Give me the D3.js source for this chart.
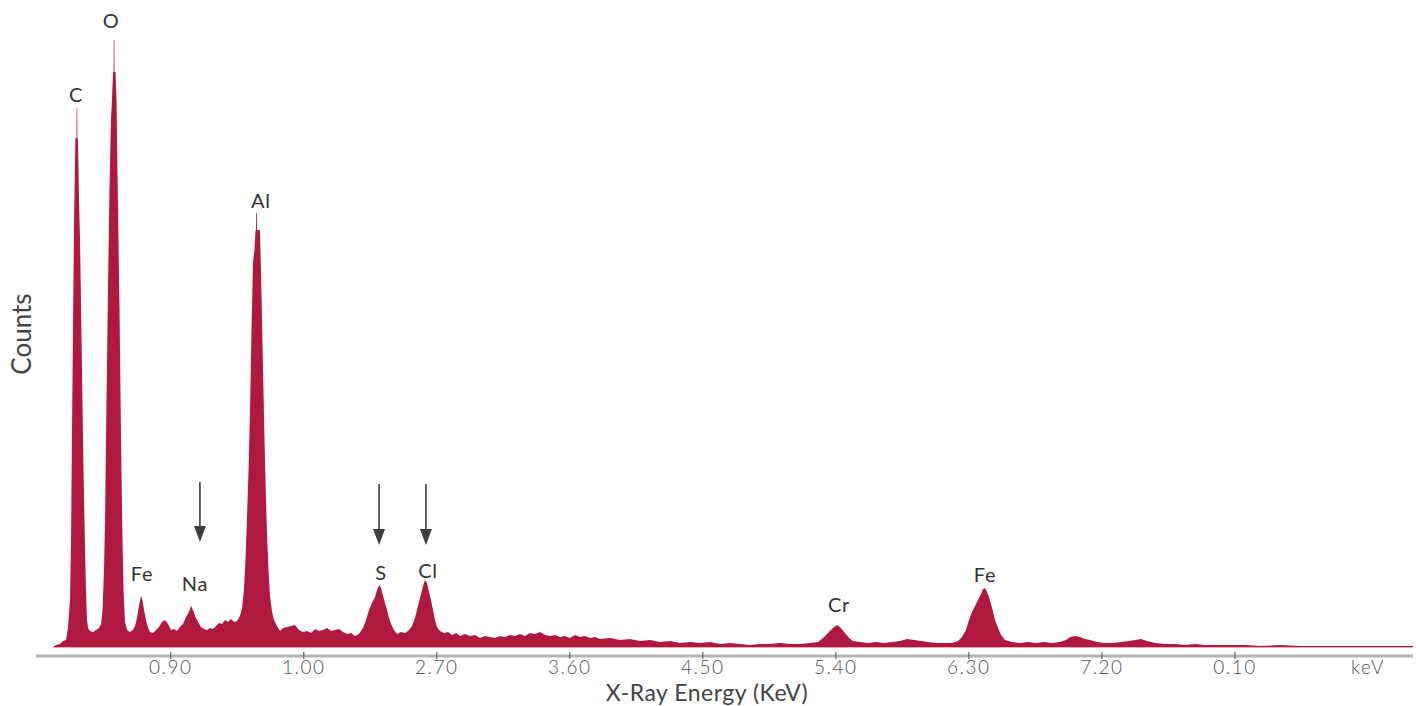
<!DOCTYPE html>
<html>
<head>
<meta charset="utf-8">
<script src="https://cdn.jsdelivr.net/npm/d3@7"></script>
<style>
  html, body { margin: 0; padding: 0; background: #fff; }
  svg { display: block; font-family: Lato, "Open Sans", sans-serif; }
</style>
</head>
<body>
<svg id="chart" width="1420" height="706"></svg>
<script>
// ---- Data ----
const energyKeV = [
  0.107,0.127,0.154,0.175,0.195,0.208,0.222,0.229,0.235,0.242,
  0.249,0.256,0.259,0.266,0.267,0.271,0.272,0.276,0.283,0.290,
  0.296,0.303,0.310,0.317,0.323,0.330,0.337,0.344,0.357,0.378,
  0.398,0.418,0.432,0.442,0.452,0.459,0.469,0.479,0.489,0.499,
  0.506,0.513,0.517,0.518,0.522,0.523,0.530,0.537,0.543,0.550,
  0.557,0.564,0.570,0.577,0.584,0.594,0.608,0.628,0.648,0.662,
  0.675,0.689,0.702,0.712,0.723,0.736,0.750,0.763,0.783,0.804,
  0.824,0.844,0.865,0.885,0.905,0.926,0.946,0.966,0.986,1.007,
  1.027,1.041,1.054,1.068,1.088,1.108,1.129,1.149,1.169,1.189,
  1.210,1.230,1.250,1.271,1.291,1.311,1.332,1.352,1.372,1.386,
  1.399,1.409,1.419,1.430,1.440,1.450,1.460,1.470,1.477,1.480,
  1.481,1.486,1.487,1.507,1.514,1.521,1.528,1.535,1.541,1.548,
  1.555,1.565,1.575,1.589,1.602,1.622,1.643,1.663,1.690,1.717,
  1.744,1.771,1.798,1.825,1.853,1.880,1.907,1.934,1.961,1.988,
  2.015,2.042,2.069,2.096,2.123,2.150,2.177,2.204,2.225,2.245,
  2.265,2.286,2.299,2.313,2.326,2.340,2.353,2.367,2.380,2.394,
  2.414,2.434,2.461,2.489,2.516,2.536,2.556,2.576,2.597,2.610,
  2.624,2.637,2.651,2.664,2.678,2.691,2.705,2.725,2.752,2.779,
  2.807,2.834,2.861,2.894,2.928,2.962,2.996,3.030,3.064,3.097,
  3.131,3.165,3.199,3.233,3.267,3.300,3.334,3.368,3.402,3.436,
  3.470,3.503,3.537,3.571,3.605,3.639,3.673,3.706,3.740,3.774,
  3.808,3.876,3.943,4.011,4.079,4.146,4.214,4.282,4.349,4.417,
  4.484,4.552,4.620,4.687,4.755,4.823,4.890,4.958,5.026,5.093,
  5.161,5.229,5.283,5.317,5.350,5.384,5.411,5.438,5.465,5.493,
  5.520,5.567,5.621,5.675,5.729,5.783,5.838,5.885,5.932,5.980,
  6.027,6.081,6.135,6.189,6.230,6.257,6.284,6.304,6.325,6.345,
  6.365,6.386,6.399,6.413,6.426,6.440,6.453,6.467,6.480,6.501,
  6.521,6.548,6.595,6.650,6.704,6.758,6.812,6.866,6.920,6.961,
  6.988,7.022,7.055,7.089,7.123,7.170,7.225,7.279,7.333,7.387,
  7.428,7.468,7.509,7.563,7.631,7.698,7.766,7.834,7.901,7.969,
  8.070,8.172,8.273,8.409,8.544,8.747,8.950,9.153,9.309
];
const counts = [
  0,20,30,60,70,190,470,1070,2070,3170,
  4220,4870,5090,5090,5390,5390,5090,5070,4470,4050,
  3470,2770,2070,1470,1020,570,270,190,160,150,
  170,190,230,370,770,1270,2470,3570,4570,5270,
  5470,5750,5750,6070,6070,5750,5750,5440,4770,4070,
  3370,2470,1770,1070,570,250,170,150,170,210,
  290,410,510,470,370,270,190,150,140,170,
  200,250,270,230,170,180,160,200,230,300,
  350,410,370,310,250,200,180,170,190,180,
  210,240,230,270,250,280,250,260,310,390,
  570,870,1270,1770,2370,3170,3850,3970,4170,4170,
  4340,4340,4170,4170,3770,3270,2770,2270,1870,1470,
  1120,770,510,350,270,210,160,190,200,210,
  220,170,150,160,140,180,160,170,190,160,
  170,180,150,130,140,110,130,190,270,370,
  440,500,570,620,590,510,440,370,290,230,
  170,130,150,140,170,210,290,410,530,610,
  670,640,550,470,370,270,200,160,140,150,
  120,140,110,130,110,120,90,110,100,90,
  110,100,120,110,130,110,140,130,150,120,
  110,120,100,110,90,120,100,110,90,100,
  80,90,70,80,60,70,50,60,40,50,
  40,50,30,40,30,20,30,30,40,30,
  30,40,50,90,140,190,220,190,140,90,
  60,50,40,50,40,50,60,80,70,60,
  50,40,40,40,60,100,170,270,350,410,
  470,530,580,590,550,500,430,350,270,190,
  120,70,50,40,50,40,50,40,50,70,
  100,110,100,80,70,50,40,40,50,60,
  70,80,60,40,30,30,20,30,20,20,
  20,20,10,20,10,10,10,10,10
];

const tickEnergies = [0.9, 1.8, 2.7, 3.6, 4.5, 5.4, 6.3, 7.2, 8.1, 9.0];
const tickLabels = ["0.90", "1.00", "2.70", "3.60", "4.50", "5.40", "6.30", "7.20", "0.10", "keV"];

const peakLabels = ["C", "O", "Fe", "Na", "Al", "S", "Cl", "Cr", "Fe"];
const peakLabelEnergy = [0.263, 0.500, 0.709, 1.067, 1.514, 2.326, 2.644, 5.425, 6.413];
const peakLabelCount = [5450, 6190, 660, 560, 4390, 670, 690, 350, 650];

const arrowEnergy = [1.101, 2.313, 2.630];
const arrowTopCount = [1650, 1630, 1630];
const arrowTipCount = [1050, 1020, 1020];

// ---- Layout ----
const svg = d3.select("#chart");
const x = d3.scaleLinear().domain([0, 9.317]).range([37.2, 1414.3]);
const y = d3.scaleLinear().domain([0, 6470]).range([647, 0]);

const data = energyKeV.map((e, i) => ({ e, c: counts[i] }));

// spectrum area
svg.append("path")
  .datum(data)
  .attr("fill", "#b0193f")
  .attr("d", d3.area().x(d => x(d.e)).y0(y(0)).y1(d => y(d.c)).curve(d3.curveLinear));

// light baseline edge under the fill
svg.append("line")
  .attr("x1", x(energyKeV[0])).attr("x2", x(energyKeV[energyKeV.length - 1]))
  .attr("y1", y(0) + 0.5).attr("y2", y(0) + 0.5)
  .attr("stroke", "#e6a9b8").attr("stroke-width", 1);

// x axis
const axis = d3.axisBottom(x)
  .tickValues(tickEnergies)
  .tickFormat((d, i) => tickLabels[i])
  .tickSizeOuter(0);
const gx = svg.append("g").attr("transform", "translate(0,656)").call(axis);
gx.select(".domain").attr("stroke", "#b4b4b4").attr("stroke-width", 3)
  .attr("d", `M36,0H1413`);
gx.selectAll(".tick line")
  .attr("y1", -4).attr("y2", 3)
  .attr("stroke", "#666").attr("stroke-width", 1.2)
  .attr("opacity", (d, i) => i === tickEnergies.length - 1 ? 0 : 1);
gx.selectAll(".tick text")
  .attr("y", 18).attr("dy", 0)
  .attr("fill", "#555")
  .style("font-size", "19px")
  .style("font-weight", "300")
  .style("letter-spacing", "1.5px")
  .style("font-family", "Lato, sans-serif");

// axis titles
svg.append("text")
  .attr("x", 707).attr("y", 700.5)
  .attr("text-anchor", "middle")
  .attr("fill", "#444")
  .style("font-size", "23px")
  .style("letter-spacing", "0.5px")
  .text("X-Ray Energy (KeV)");

svg.append("text")
  .attr("transform", "translate(31,334) rotate(-90)")
  .attr("text-anchor", "middle")
  .attr("fill", "#444")
  .style("font-size", "26px")
  .text("Counts");

// peak labels
svg.append("g").selectAll("text")
  .data(peakLabels)
  .join("text")
  .attr("x", (d, i) => x(peakLabelEnergy[i]))
  .attr("y", (d, i) => y(peakLabelCount[i]))
  .attr("text-anchor", "middle")
  .attr("fill", "#333")
  .style("font-size", "20px")
  .style("letter-spacing", "0.8px")
  .text(d => d);

// arrows
const ag = svg.append("g");
arrowEnergy.forEach((e, i) => {
  const ax = x(e), top = y(arrowTopCount[i]), tip = y(arrowTipCount[i]);
  ag.append("line")
    .attr("x1", ax).attr("x2", ax).attr("y1", top).attr("y2", tip - 14)
    .attr("stroke", "#3f3f3f").attr("stroke-width", 1.6);
  ag.append("path")
    .attr("d", `M${ax - 6},${tip - 16}L${ax + 6},${tip - 16}L${ax},${tip}Z`)
    .attr("fill", "#3f3f3f");
});
</script>
</body>
</html>
